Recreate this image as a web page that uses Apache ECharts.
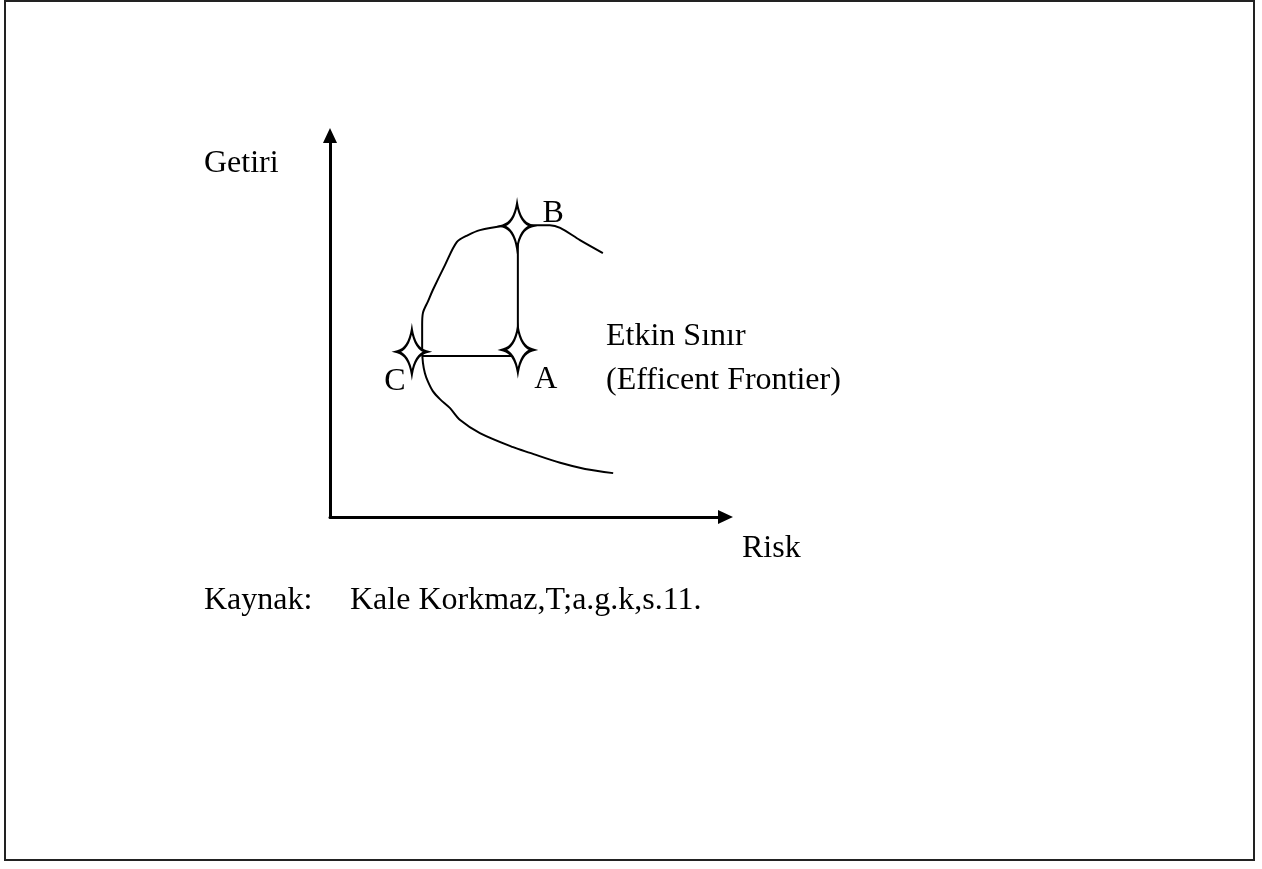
<!DOCTYPE html>
<html>
<head>
<meta charset="utf-8">
<title>Etkin Sınır</title>
<script src="https://cdn.jsdelivr.net/npm/echarts@6/dist/echarts.min.js"></script>
<style>
  html, body { margin: 0; padding: 0; background: #fff; }
  #chart { width: 1262px; height: 869px; }
</style>
</head>
<body>
<div id="chart"></div>
<script>
// efficient frontier curve (risk, return), 0-100 scale on both axes
const frontierRisk = [71.6, 64.5, 58.2, 50.6, 46.3, 37.9, 32.9, 30.3, 27.8, 26.0, 24.8, 24.0, 23.5, 23.3, 23.3, 23.3, 23.5, 24.8, 26.0, 29.1, 32.1, 34.9, 37.9, 43.7, 47.3, 51.8, 55.6, 58.2, 63.2, 69.0];
const frontierReturn = [11.5, 12.6, 14.2, 16.8, 18.3, 22.0, 25.4, 28.6, 30.9, 33.0, 35.4, 37.7, 40.4, 43.8, 46.9, 50.3, 53.5, 56.6, 59.5, 66.1, 72.1, 73.9, 75.2, 76.3, 76.5, 76.5, 76.5, 75.8, 72.6, 69.2];

// portfolios
const pointNames = ['B', 'A', 'C'];
const pointRisk = [47.3, 47.5, 20.7];
const pointReturn = [76.3, 43.8, 43.3];

// connecting lines: B -> A (same risk), C -> A (same return)
const lineBA = [[47.5, 76.3], [47.5, 43.8]];
const lineCA = [[23.5, 42.2], [47.5, 42.2]];

const FONT_FAMILY = '"Liberation Serif", "Times New Roman", serif';
const FONT = '32px ' + FONT_FAMILY;
const starPath = 'path://M0,-22 Q3,-3 14,0 Q3,3 0,22 Q-3,3 -14,0 Q-3,-3 0,-22 Z';
const labelOffsets = { B: [36, -12], A: [28, 30], C: [-17, 30] };

const chart = echarts.init(document.getElementById('chart'));

const axisCommon = {
  type: 'value',
  min: 0,
  max: 100,
  axisLine: {
    show: true,
    onZero: false,
    symbol: ['none', 'triangle'],
    symbolSize: [14, 15],
    lineStyle: { color: '#000', width: 3 }
  },
  axisTick: { show: false },
  axisLabel: { show: false },
  splitLine: { show: false }
};

function txt(text, x, y) {
  return { type: 'text', x: x, y: y, style: { text: text, font: FONT, fill: '#000', verticalAlign: 'middle' } };
}

const option = {
  backgroundColor: '#fff',
  animation: false,
  grid: { left: 330, right: 536.5, top: 135.5, bottom: 352 },
  xAxis: axisCommon,
  yAxis: axisCommon,
  graphic: [
    { type: 'rect', shape: { x: 5, y: 1, width: 1249, height: 859 }, style: { fill: 'none', stroke: '#222', lineWidth: 2 } },
    txt('Getiri', 204, 164),
    txt('Etkin Sınır', 606, 337),
    txt('(Efficent Frontier)', 606, 381),
    txt('Risk', 742, 549),
    txt('Kaynak:', 204, 601),
    txt('Kale Korkmaz,T;a.g.k,s.11.', 350, 601)
  ],
  series: [
    {
      type: 'line',
      data: frontierRisk.map((r, i) => [r, frontierReturn[i]]),
      smooth: 0.3,
      showSymbol: false,
      lineStyle: { color: '#000', width: 2 },
      z: 2
    },
    {
      type: 'line',
      data: lineBA,
      showSymbol: false,
      lineStyle: { color: '#000', width: 2 },
      z: 2
    },
    {
      type: 'line',
      data: lineCA,
      showSymbol: false,
      lineStyle: { color: '#000', width: 2 },
      z: 2
    },
    {
      type: 'scatter',
      symbol: starPath,
      symbolSize: [29, 45],
      itemStyle: { color: '#fff', borderColor: '#000', borderWidth: 2.5, opacity: 1 },
      data: pointNames.map((n, i) => ({
        name: n,
        value: [pointRisk[i], pointReturn[i]],
        label: { offset: labelOffsets[n] }
      })),
      label: {
        show: true,
        position: 'inside',
        formatter: '{b}',
        color: '#000',
        textBorderWidth: 0,
        fontSize: 32,
        fontFamily: FONT_FAMILY
      },
      emphasis: { disabled: true },
      z: 5
    }
  ]
};

chart.setOption(option);
</script>
</body>
</html>
